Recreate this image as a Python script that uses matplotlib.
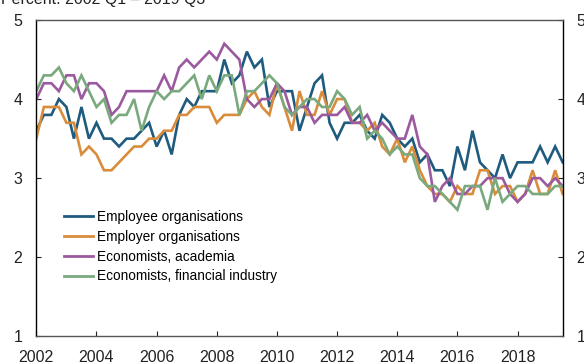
import numpy as np
import matplotlib
matplotlib.use("Agg")
import matplotlib.pyplot as plt

plt.rcParams['font.family'] = ['Liberation Sans', 'DejaVu Sans']

# Quarterly observations, 2002 Q1 - 2019 Q3
start_year = 2002
n_quarters = 71

employee = [3.6, 3.8, 3.8, 4.0, 3.9, 3.5, 3.9, 3.5, 3.7, 3.5,
            3.5, 3.4, 3.5, 3.5, 3.6, 3.7, 3.4, 3.6, 3.3, 3.8,
            4.0, 3.9, 4.1, 4.1, 4.1, 4.5, 4.2, 4.3, 4.6, 4.4,
            4.5, 3.9, 4.1, 4.1, 4.1, 3.6, 3.9, 4.2, 4.3, 3.7,
            3.5, 3.7, 3.7, 3.8, 3.6, 3.5, 3.8, 3.7, 3.5, 3.4,
            3.5, 3.2, 3.3, 3.1, 3.1, 2.9, 3.4, 3.1, 3.6, 3.2,
            3.1, 3.0, 3.3, 3.0, 3.2, 3.2, 3.2, 3.4, 3.2, 3.4,
            3.2]

employer = [3.5, 3.9, 3.9, 3.9, 3.7, 3.7, 3.3, 3.4, 3.3, 3.1,
            3.1, 3.2, 3.3, 3.4, 3.4, 3.5, 3.5, 3.6, 3.6, 3.8,
            3.8, 3.9, 3.9, 3.9, 3.7, 3.8, 3.8, 3.8, 4.0, 4.1,
            3.9, 3.8, 4.2, 3.9, 3.6, 4.1, 3.8, 3.8, 4.1, 3.8,
            4.0, 4.0, 3.7, 3.7, 3.6, 3.7, 3.4, 3.3, 3.5, 3.2,
            3.4, 3.1, 2.9, 2.8, 2.8, 2.7, 2.9, 2.8, 2.8, 3.1,
            3.1, 2.8, 2.9, 2.9, 2.7, 2.8, 3.1, 2.8, 2.8, 3.1,
            2.8]

academia = [4.0, 4.2, 4.2, 4.1, 4.3, 4.3, 4.0, 4.2, 4.2, 4.1,
            3.8, 3.9, 4.1, 4.1, 4.1, 4.1, 4.1, 4.3, 4.1, 4.4,
            4.5, 4.4, 4.5, 4.6, 4.5, 4.7, 4.6, 4.5, 4.0, 3.9,
            4.0, 4.0, 4.2, 4.1, 3.8, 3.9, 3.9, 3.7, 3.8, 3.8,
            3.8, 3.9, 3.7, 3.7, 3.8, 3.6, 3.7, 3.6, 3.5, 3.5,
            3.8, 3.4, 3.3, 2.7, 2.9, 3.0, 2.8, 2.8, 2.9, 2.9,
            3.0, 3.0, 3.0, 2.8, 2.7, 2.8, 3.0, 3.0, 2.9, 3.0,
            2.9]

financial = [4.1, 4.3, 4.3, 4.4, 4.2, 4.1, 4.3, 4.1, 3.9, 4.0,
             3.7, 3.8, 3.8, 4.0, 3.6, 3.9, 4.1, 4.0, 4.1, 4.1,
             4.2, 4.3, 4.0, 4.3, 4.1, 4.3, 4.3, 3.8, 4.1, 4.1,
             4.2, 4.3, 4.2, 3.9, 3.8, 3.9, 4.0, 4.0, 3.9, 3.9,
             4.1, 4.0, 3.8, 3.9, 3.5, 3.6, 3.5, 3.3, 3.4, 3.3,
             3.3, 3.0, 2.9, 2.9, 2.8, 2.7, 2.6, 2.9, 2.9, 2.9,
             2.6, 3.0, 2.7, 2.8, 2.9, 2.9, 2.8, 2.8, 2.8, 2.9,
             2.9]

labels = ["Employee organisations", "Employer organisations",
          "Economists, academia", "Economists, financial industry"]
colors = ["#1f5b7e", "#d98c3a", "#9b5a9f", "#79a97d"]

x_ticks = [2002, 2004, 2006, 2008, 2010, 2012, 2014, 2016, 2018]
y_ticks = [1, 2, 3, 4, 5]

t = start_year + np.arange(n_quarters) / 4.0

fig = plt.figure(figsize=(5.84, 3.63), dpi=100)
ax = fig.add_axes([0.0622, 0.0735, 0.9013, 0.8714])

for series, lab, col in zip([employee, employer, academia, financial], labels, colors):
    ax.plot(t, series, color=col, lw=1.9, label=lab, solid_joinstyle='miter')

ax.set_xlim(2002, 2019.5)
ax.set_ylim(1, 5)
ax.set_xticks(x_ticks)
ax.set_yticks(y_ticks)
ax.tick_params(axis='both', direction='in', length=3.5, width=0.8,
               labelsize=11.5, colors='#222222')
ax.tick_params(axis='x', pad=9.5)
ax.tick_params(axis='y', pad=10, right=True, labelright=True)

for side in ['left', 'right']:
    ax.spines[side].set_color('black')
    ax.spines[side].set_linewidth(1.0)
for side in ['top', 'bottom']:
    ax.spines[side].set_color('#555555')
    ax.spines[side].set_linewidth(1.0)

leg = ax.legend(loc='center left', bbox_to_anchor=(0.0526, 0.283),
                frameon=False, fontsize=9.8, handlelength=2.15,
                handletextpad=0.3, labelspacing=0.42, borderpad=0,
                borderaxespad=0)
for line in leg.get_lines():
    line.set_linewidth(2.0)

fig.text(0.002, 1 - 4 / 363, "Percent. 2002 Q1 \u2013 2019 Q3",
         fontsize=11.5, ha='left', va='baseline', color='#222222')

fig.savefig("out.png", dpi=100)
